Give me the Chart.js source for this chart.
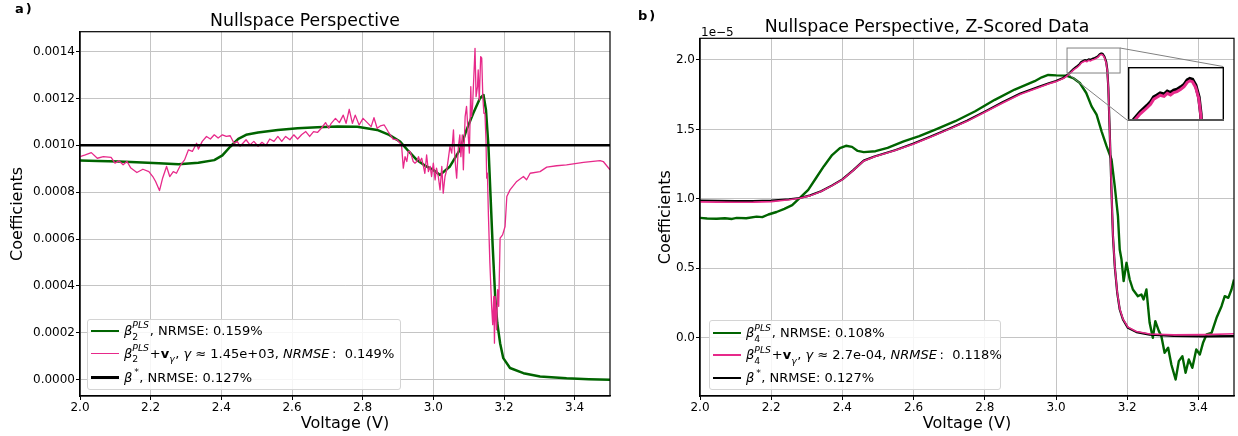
<!DOCTYPE html>
<html><head><meta charset="utf-8">
<script src="https://cdn.jsdelivr.net/npm/chart.js@4.4.1/dist/chart.umd.min.js"></script>
<style>
html,body{margin:0;padding:0;background:#fff;}
body{position:relative;width:1238px;height:436px;overflow:hidden;font-family:'DejaVu Sans',sans-serif;color:#000;}
.abs{position:absolute;}
.lbl{font-weight:bold;font-size:13px;line-height:13px;letter-spacing:2px;}
.leg{position:absolute;box-sizing:border-box;border:1px solid #d4d4d4;border-radius:3px;background:rgba(255,255,255,0.85);font-size:13px;}
.row{position:absolute;left:0;height:0;display:flex;align-items:center;white-space:nowrap;}
.h{display:inline-block;width:28px;margin-left:3.5px;margin-right:5px;}
.t{line-height:14px;}
.ss{display:inline-block;position:relative;height:0;}
.sp{position:absolute;left:0;bottom:5.5px;line-height:9px;font-size:9.3px;font-style:italic;}
.sb{position:absolute;left:0;bottom:-5.6px;line-height:9px;font-size:9.3px;}
</style></head><body>
<div class="abs" style="left:0;top:0;width:690px;height:436px"><canvas id="cA" width="690" height="436"></canvas></div>
<div class="abs" style="left:620px;top:0;width:694px;height:436px"><canvas id="cB" width="694" height="436"></canvas></div>
<div id="insetWrap" class="abs"><canvas id="cI"></canvas></div>
<div class="abs lbl" style="left:15px;top:1.5px">a)</div>
<div class="abs lbl" style="left:638px;top:8.5px">b)</div>
<div class="abs" style="left:701px;top:26px;font-size:12px;line-height:12px">1e−5</div>

<div class="leg" style="left:86.5px;top:318.7px;width:314.3px;height:71.3px">
  <div class="row" style="top:11.3px"><span class="h" style="height:2.5px;background:#006400"></span><span class="t"><i>β</i><span class="ss" style="width:17.5px"><span class="sp">PLS</span><span class="sb">2</span></span>, NRMSE: 0.159%</span></div>
  <div class="row" style="top:34px"><span class="h" style="height:1.4px;background:#e7298a"></span><span class="t"><i>β</i><span class="ss" style="width:17.5px"><span class="sp">PLS</span><span class="sb">2</span></span>+<b>v</b><span class="ss" style="width:6px"><i class="sb">γ</i></span>, <i>γ</i> ≈ 1.45e+03, <i>NRMSE</i>&thinsp;:&nbsp; 0.149%</span></div>
  <div class="row" style="top:58px"><span class="h" style="height:2.5px;background:#000"></span><span class="t"><i>β</i><span class="ss" style="width:7px"><span class="sp" style="font-style:normal">&thinsp;*</span></span>, NRMSE: 0.127%</span></div>
</div>
<div class="leg" style="left:708.5px;top:320px;width:292.5px;height:70px">
  <div class="row" style="top:12px"><span class="h" style="height:2.5px;background:#006400"></span><span class="t"><i>β</i><span class="ss" style="width:17.5px"><span class="sp">PLS</span><span class="sb">4</span></span>, NRMSE: 0.108%</span></div>
  <div class="row" style="top:34px"><span class="h" style="height:1.4px;background:#e7298a"></span><span class="t"><i>β</i><span class="ss" style="width:17.5px"><span class="sp">PLS</span><span class="sb">4</span></span>+<b>v</b><span class="ss" style="width:6px"><i class="sb">γ</i></span>, <i>γ</i> ≈ 2.7e-04, <i>NRMSE</i>&thinsp;:&nbsp; 0.118%</span></div>
  <div class="row" style="top:57px"><span class="h" style="height:2.5px;background:#000"></span><span class="t"><i>β</i><span class="ss" style="width:7px"><span class="sp" style="font-style:normal">&thinsp;*</span></span>, NRMSE: 0.127%</span></div>
</div>

<script>
// ================= DATA =================
// shared x axis ticks (Voltage, V)
const xTicks = [2.0, 2.2, 2.4, 2.6, 2.8, 3.0, 3.2, 3.4];
const xTickLabels = ['2.0', '2.2', '2.4', '2.6', '2.8', '3.0', '3.2', '3.4'];

// panel a) y ticks, values in units of 1e-3
const yTicksA = [0, 0.2, 0.4, 0.6, 0.8, 1.0, 1.2, 1.4];
const yTickLabelsA = ['0.0000', '0.0002', '0.0004', '0.0006', '0.0008', '0.0010', '0.0012', '0.0014'];
// panel b) y ticks, values in units of 1e-5
const yTicksB = [0, 0.5, 1.0, 1.5, 2.0];
const yTickLabelsB = ['0.0', '0.5', '1.0', '1.5', '2.0'];

// ---- panel a) (coefficients x 1e-3) ----
const greenA_V = [2.000,2.050,2.110,2.160,2.223,2.279,2.335,2.380,2.403,2.425,2.448,2.470,2.504,2.560,2.616,2.672,2.728,2.785,2.841,2.875,2.906,2.930,2.953,2.975,3.000,3.019,3.047,3.075,3.094,3.113,3.132,3.142,3.149,3.156,3.162,3.168,3.175,3.181,3.189,3.198,3.217,3.255,3.302,3.377,3.440,3.500];
const greenA_Y = [0.935,0.933,0.931,0.928,0.924,0.919,0.926,0.937,0.957,0.994,1.028,1.045,1.055,1.066,1.073,1.077,1.081,1.079,1.066,1.045,1.016,0.975,0.938,0.915,0.895,0.874,0.910,0.981,1.066,1.137,1.201,1.215,1.151,0.995,0.782,0.569,0.355,0.242,0.156,0.092,0.050,0.028,0.014,0.006,0.002,0.000];

const pinkA_V = [2.000,2.015,2.032,2.049,2.066,2.088,2.099,2.110,2.122,2.133,2.144,2.161,2.178,2.195,2.206,2.214,2.225,2.234,2.245,2.254,2.264,2.273,2.285,2.296,2.307,2.318,2.330,2.335,2.346,2.358,2.369,2.380,2.391,2.403,2.414,2.425,2.436,2.445,2.453,2.461,2.470,2.481,2.492,2.504,2.515,2.526,2.537,2.549,2.560,2.571,2.582,2.594,2.605,2.616,2.627,2.639,2.650,2.661,2.672,2.683,2.695,2.704,2.711,2.723,2.734,2.745,2.753,2.762,2.771,2.779,2.790,2.801,2.813,2.824,2.832,2.841,2.850,2.861,2.872,2.886,2.897,
  2.906,2.910,2.915,2.920,2.925,2.929,2.934,2.939,2.943,2.948,2.953,2.958,2.962,2.967,2.972,2.976,2.981,2.986,2.991,2.995,3.000,3.005,3.009,3.014,3.019,3.024,3.028,3.033,3.038,3.042,3.047,3.052,3.057,3.059,3.063,3.066,3.071,3.075,3.078,3.082,3.085,3.090,3.094,3.099,3.102,3.106,3.108,3.111,3.115,3.118,3.121,3.125,3.127,3.130,3.134,3.137,3.140,3.143,3.146,3.149,3.151,3.153,3.156,3.160,3.165,3.168,3.171,3.173,3.175,3.179,3.182,3.185,3.189,3.196,3.203,3.208,3.217,3.236,3.255,3.264,3.274,3.302,3.321,3.349,3.377,3.425,3.472,3.481,3.500];
const pinkA_Y = [0.952,0.959,0.969,0.945,0.952,0.949,0.924,0.934,0.917,0.931,0.903,0.884,0.898,0.888,0.867,0.846,0.807,0.861,0.910,0.867,0.888,0.881,0.917,0.938,0.981,0.974,1.009,0.984,1.017,1.038,1.027,1.045,1.031,1.045,1.038,1.041,1.009,1.017,0.996,1.009,1.024,1.002,1.017,0.996,1.013,0.999,1.027,1.017,1.038,1.017,1.038,1.024,1.045,1.027,1.045,1.059,1.038,1.059,1.055,1.073,1.097,1.073,1.094,1.115,1.097,1.129,1.094,1.154,1.094,1.129,1.087,1.115,1.097,1.080,1.118,1.073,1.083,1.087,1.059,1.027,1.024,
  1.009,1.002,0.903,0.952,0.931,0.974,0.974,0.952,0.931,0.924,0.931,0.952,0.931,0.945,0.910,0.881,0.959,0.888,0.910,0.867,0.924,0.853,0.903,0.867,0.810,0.910,0.796,0.867,0.896,0.938,0.995,0.967,1.066,0.995,0.910,0.860,0.995,1.045,0.952,1.045,0.896,1.123,1.166,1.038,0.967,1.251,1.123,1.166,1.308,1.414,1.208,1.251,1.322,1.194,1.379,1.372,1.208,1.137,1.137,1.023,0.860,0.881,0.697,0.498,0.313,0.235,0.355,0.156,0.355,0.213,0.384,0.313,0.604,0.618,0.654,0.782,0.810,0.846,0.867,0.853,0.881,0.888,0.907,0.913,0.917,0.927,0.935,0.931,0.896];

const blackA_V = [2.0, 3.5];
const blackA_Y = [1.0, 1.0];

// ---- panel b) (coefficients x 1e-5) ----
const greenB_V = [2.000,2.020,2.047,2.070,2.090,2.103,2.130,2.159,2.175,2.192,2.215,2.237,2.259,2.282,2.304,2.326,2.348,2.371,2.393,2.410,2.427,2.443,2.460,2.493,2.527,2.572,2.616,2.661,2.717,2.773,2.828,2.884,2.940,2.960,2.978,3.001,3.029,3.048,3.067,3.085,3.100,3.114,3.128,3.142,3.156,3.165,3.174,3.179,3.184,3.190,3.198,3.207,3.216,3.230,3.240,3.246,3.254,3.263,3.272,3.279,3.289,3.296,3.305,3.315,3.324,3.336,3.345,3.355,3.364,3.373,3.383,3.394,3.404,3.413,3.423,3.437,3.451,3.465,3.474,3.484,3.493,3.500];
const greenB_Y = [0.863,0.858,0.856,0.860,0.855,0.863,0.860,0.872,0.868,0.887,0.905,0.928,0.955,1.010,1.065,1.150,1.235,1.315,1.365,1.382,1.374,1.345,1.336,1.343,1.367,1.413,1.451,1.499,1.559,1.631,1.713,1.787,1.847,1.875,1.892,1.889,1.887,1.870,1.834,1.762,1.666,1.606,1.486,1.379,1.283,1.091,0.875,0.635,0.563,0.407,0.539,0.419,0.347,0.299,0.311,0.275,0.347,0.107,-0.001,0.119,0.047,0.011,-0.109,-0.073,-0.193,-0.301,-0.169,-0.133,-0.253,-0.157,-0.217,-0.085,-0.121,-0.037,0.023,0.035,0.143,0.227,0.299,0.287,0.347,0.419];

const smoothB_V = [2.000,2.050,2.100,2.150,2.200,2.250,2.280,2.310,2.340,2.370,2.400,2.430,2.460,2.490,2.520,2.550,2.600,2.650,2.700,2.750,2.800,2.850,2.900,2.950,2.980,3.000,3.020,3.030,3.040,3.050,3.056,3.061,3.066,3.071,3.076,3.081,3.087,3.092,3.097,3.102,3.107,3.113,3.118,3.123,3.127,3.131,3.136,3.141,3.144,3.147,3.151,3.156,3.160,3.165,3.172,3.179,3.188,3.202,3.226,3.263,3.330,3.420,3.500];
const blackB_Y = [0.988,0.986,0.984,0.984,0.987,0.997,1.006,1.025,1.055,1.095,1.140,1.205,1.275,1.305,1.328,1.352,1.398,1.450,1.505,1.562,1.628,1.695,1.758,1.805,1.832,1.848,1.870,1.888,1.911,1.936,1.948,1.958,1.969,1.986,1.992,1.999,1.995,2.005,2.000,2.008,2.011,2.019,2.027,2.042,2.047,2.044,2.025,1.986,1.930,1.800,1.475,1.043,0.731,0.515,0.323,0.203,0.131,0.071,0.040,0.022,0.012,0.010,0.011];
const pinkB_Y = [0.978,0.976,0.975,0.976,0.980,0.993,1.004,1.023,1.053,1.093,1.138,1.203,1.273,1.303,1.326,1.350,1.395,1.447,1.502,1.558,1.624,1.690,1.753,1.800,1.828,1.844,1.866,1.883,1.905,1.930,1.941,1.951,1.962,1.979,1.985,1.992,1.988,1.998,1.993,2.001,2.004,2.012,2.020,2.035,2.040,2.037,2.018,1.979,1.925,1.800,1.480,1.050,0.740,0.520,0.328,0.208,0.136,0.076,0.045,0.027,0.020,0.022,0.028];

// zoomed region shown in the inset of panel b)
const insetXRange = [3.031, 3.180];
const insetYRange = [1.906, 2.086];

// ================= STYLE / LAYOUT =================
const FONT = "'DejaVu Sans', sans-serif";
const GREEN = '#006400', PINK = '#e7298a', BLACK = '#000000';
const INSET_POS = { x0: 0.801, x1: 0.980, y0: 0.079, y1: 0.230 }; // axes fractions from top-left

function pts(xs, ys) { return xs.map((x, i) => ({ x: x, y: ys[i] })); }

const framePlugin = {
  id: 'frame',
  afterDatasetsDraw(chart) {
    const { ctx, chartArea: a } = chart;
    ctx.save();
    ctx.strokeStyle = '#000';
    ctx.lineWidth = 1.2;
    ctx.strokeRect(a.left, a.top, a.right - a.left, a.bottom - a.top);
    ctx.restore();
  }
};

function insetRect(chart) {
  const a = chart.chartArea, W = a.right - a.left, H = a.bottom - a.top;
  return { l: a.left + INSET_POS.x0 * W, r: a.left + INSET_POS.x1 * W, t: a.top + INSET_POS.y0 * H, b: a.top + INSET_POS.y1 * H };
}

const insetMarkPlugin = {
  id: 'insetMark',
  afterDatasetsDraw(chart) {
    const { ctx } = chart, sx = chart.scales.x, sy = chart.scales.y;
    const bl = sx.getPixelForValue(insetXRange[0]), br = sx.getPixelForValue(insetXRange[1]);
    const bt = sy.getPixelForValue(insetYRange[1]), bb = sy.getPixelForValue(insetYRange[0]);
    const ir = insetRect(chart);
    ctx.save();
    ctx.strokeStyle = '#808080';
    ctx.lineWidth = 1;
    ctx.strokeRect(bl, bt, br - bl, bb - bt);
    ctx.beginPath();
    ctx.moveTo(br, bt); ctx.lineTo(ir.r, ir.t);
    ctx.moveTo(bl, bb); ctx.lineTo(ir.l, ir.b);
    ctx.stroke();
    ctx.restore();
  }
};

function lineDs(data, color, width, order) {
  return { data: data, borderColor: color, backgroundColor: color, borderWidth: width, pointRadius: 0, fill: false, tension: 0, order: order };
}

function buildMain(id, cfg) {
  return new Chart(document.getElementById(id), {
    type: 'line',
    data: { datasets: cfg.datasets },
    options: {
      responsive: false, animation: false, events: [],
      layout: { padding: { left: 0, right: 80, top: 0, bottom: 0 } },
      plugins: {
        legend: { display: false }, tooltip: { enabled: false },
        title: { display: true, text: cfg.title, color: '#000',
          font: { family: FONT, size: 17.3, weight: 'normal', lineHeight: 1 },
          padding: { top: cfg.titlePad[0], bottom: cfg.titlePad[1] } }
      },
      elements: { line: { borderJoinStyle: 'round' } },
      scales: {
        x: {
          type: 'linear', min: 2.0, max: 3.5,
          afterBuildTicks: s => { s.ticks = xTicks.map(v => ({ value: v })); },
          afterFit: s => { s.height = 40; },
          ticks: { callback: (v, i) => xTickLabels[i], color: '#000', font: { family: FONT, size: 12 }, padding: 1, maxRotation: 0, autoSkip: false },
          grid: { color: '#c4c4c4', lineWidth: 1, tickColor: '#000', tickLength: 4, tickWidth: 1 },
          border: { color: '#000', width: 1.2 },
          title: { display: true, text: 'Voltage (V)', color: '#000', font: { family: FONT, size: 16, lineHeight: 1.2 }, padding: { top: 0, bottom: 2.6 } }
        },
        y: {
          type: 'linear', min: cfg.yMin, max: cfg.yMax,
          afterBuildTicks: s => { s.ticks = cfg.yTicks.map(v => ({ value: v })); },
          afterFit: s => { s.width = 80; },
          ticks: { callback: (v, i) => cfg.yLabels[i], color: '#000', font: { family: FONT, size: 12 }, padding: 1, autoSkip: false },
          grid: { color: '#c4c4c4', lineWidth: 1, tickColor: '#000', tickLength: 4, tickWidth: 1 },
          border: { color: '#000', width: 1.2 },
          title: { display: true, text: 'Coefficients', color: '#000', font: { family: FONT, size: 16, lineHeight: 1.2 }, padding: { top: cfg.yTitlePad, bottom: 0 } }
        }
      }
    },
    plugins: cfg.plugins
  });
}

const chartA = buildMain('cA', {
  title: 'Nullspace Perspective', titlePad: [12.65, 1.75],
  yMin: -0.0695, yMax: 1.485, yTicks: yTicksA, yLabels: yTickLabelsA, yTitlePad: 8.7,
  datasets: [
    lineDs(pts(greenA_V, greenA_Y), GREEN, 2.5, 2),
    lineDs(pts(pinkA_V, pinkA_Y), PINK, 1.3, 1),
    lineDs(pts(blackA_V, blackA_Y), BLACK, 2.5, 0)
  ],
  plugins: [framePlugin]
});

const chartB = buildMain('cB', {
  title: 'Nullspace Perspective, Z-Scored Data', titlePad: [19.35, 1.65],
  yMin: -0.42, yMax: 2.156, yTicks: yTicksB, yLabels: yTickLabelsB, yTitlePad: 36.4,
  datasets: [
    lineDs(pts(greenB_V, greenB_Y), GREEN, 2.4, 2),
    lineDs(pts(smoothB_V, pinkB_Y), PINK, 1.6, 0),
    lineDs(pts(smoothB_V, blackB_Y), BLACK, 2.2, 1)
  ],
  plugins: [insetMarkPlugin, framePlugin]
});

// ---- inset (zoom of panel b) ----
const ir = insetRect(chartB);
const iw = Math.round(ir.r - ir.l), ih = Math.round(ir.b - ir.t);
const wrap = document.getElementById('insetWrap');
wrap.style.left = (620 + Math.round(ir.l)) + 'px';
wrap.style.top = Math.round(ir.t) + 'px';
wrap.style.width = iw + 'px';
wrap.style.height = ih + 'px';
const cI = document.getElementById('cI');
cI.width = iw; cI.height = ih;

new Chart(cI, {
  type: 'line',
  data: { datasets: [
    lineDs(pts(greenB_V, greenB_Y), GREEN, 2.4, 2),
    lineDs(pts(smoothB_V, pinkB_Y), PINK, 3, 0),
    lineDs(pts(smoothB_V, blackB_Y), BLACK, 3.6, 1)
  ] },
  options: {
    responsive: false, animation: false, events: [],
    layout: { padding: 0 },
    plugins: { legend: { display: false }, tooltip: { enabled: false }, title: { display: false } },
    scales: {
      x: { type: 'linear', display: false, min: insetXRange[0], max: insetXRange[1] },
      y: { type: 'linear', display: false, min: insetYRange[0], max: insetYRange[1] }
    }
  },
  plugins: [{
    id: 'insetBg',
    beforeDraw(chart) { const c = chart.ctx; c.save(); c.fillStyle = '#fff'; c.fillRect(0, 0, chart.width, chart.height); c.restore(); },
    afterDraw(chart) {
      const c = chart.ctx, w = chart.width, h = chart.height;
      c.save();
      c.strokeStyle = '#000'; c.lineWidth = 1.4;
      c.strokeRect(0.7, 0.7, w - 1.4, h - 1.4);
      c.strokeStyle = '#555'; c.lineWidth = 2;
      c.beginPath(); c.moveTo(0, h - 1); c.lineTo(w, h - 1); c.stroke();
      c.restore();
    }
  }]
});
</script>
</body></html>
